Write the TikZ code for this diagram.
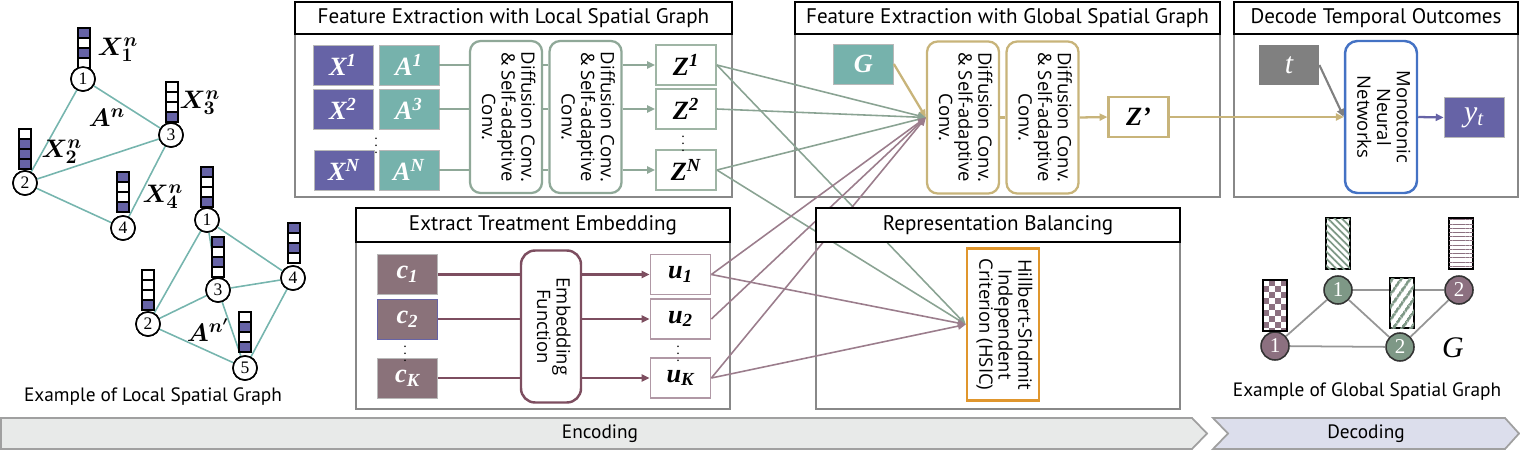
\documentclass[tikz,border=0pt]{standalone}
\usepackage{fontspec}
\usepackage{bm}
\usepackage{graphicx}
\setmainfont{PT Sans}
\newfontfamily\rotfont{Open Sans}
\newfontfamily\timesfont{Liberation Serif}
\usetikzlibrary{arrows.meta,patterns.meta}

\definecolor{xpurple}{RGB}{102,99,166}
\definecolor{ateal}{RGB}{118,178,172}
\definecolor{lgreen}{RGB}{143,168,152}
\definecolor{zedge}{RGB}{159,181,165}
\definecolor{zline}{RGB}{138,163,147}
\definecolor{gold}{RGB}{200,180,122}
\definecolor{mauve}{RGB}{138,114,122}
\definecolor{dmauve}{RGB}{125,78,96}
\definecolor{lmauve}{RGB}{176,152,165}
\definecolor{uline}{RGB}{155,125,140}
\definecolor{hsic}{RGB}{224,150,45}
\definecolor{mnnblue}{RGB}{68,114,196}
\definecolor{frame}{RGB}{136,136,136}
\definecolor{tgray}{RGB}{128,128,128}
\definecolor{graphteal}{RGB}{118,181,174}
\definecolor{ggreen}{RGB}{126,152,134}
\definecolor{gmauve}{RGB}{140,112,128}
\definecolor{gedge}{RGB}{150,150,150}
\definecolor{encfill}{RGB}{232,234,233}
\definecolor{decfill}{RGB}{220,222,236}
\definecolor{bandedge}{RGB}{160,160,160}

\begin{document}
\begin{tikzpicture}[x=0.02cm, y=-0.02cm,
    title/.style={draw=black, line width=1.5pt, fill=white, inner sep=0pt,
        minimum height=0.64cm, font=\fontsize{12}{13}\selectfont},
    panel/.style={draw=frame, line width=1.1pt},
    symbox/.style={minimum width=1.2cm, minimum height=0.8cm, inner sep=0pt,
        font=\timesfont\fontsize{15}{15}\selectfont\bfseries\itshape},
    xbox/.style={symbox, fill=xpurple, draw=frame!60, text=white},
    abox/.style={symbox, fill=ateal, draw=frame!60, text=white},
    zbox/.style={symbox, draw=zedge, line width=1pt},
    cbox/.style={symbox, fill=mauve, draw=frame!60, text=white},
    ubox/.style={symbox, draw=lmauve, line width=1pt},
    tallbox/.style={minimum width=1.44cm, minimum height=3.04cm, inner sep=0pt,
        line width=1.3pt, font=\rotfont\fontsize{10.5}{11}\selectfont},
    convL/.style={tallbox, draw=lgreen, rounded corners=6pt},
    convG/.style={tallbox, draw=gold, rounded corners=6pt},
    arrowto/.style={-{Triangle[length=4.5pt,width=4pt]}},
    lline/.style={draw=lgreen, line width=1.2pt},
    gline/.style={draw=gold, line width=1.3pt},
    eline/.style={draw=dmauve, line width=1.4pt},
    zcross/.style={draw=zline, line width=0.9pt, arrowto},
    ucross/.style={draw=uline, line width=0.9pt, arrowto},
    gnode/.style={circle, draw=black, line width=0.9pt, fill=white, minimum size=0.48cm,
        inner sep=0pt, font=\timesfont\fontsize{10}{10}\selectfont},
    Gnode/.style={circle, draw=black!80, line width=0.9pt, minimum size=0.56cm,
        inner sep=0pt, text=white, font=\timesfont\fontsize{12}{12}\selectfont},
    glabel/.style={inner sep=0pt, font=\fontsize{15}{15}\selectfont},
    dots/.style={inner sep=0pt, font=\fontsize{8}{8}\selectfont},
    caption/.style={font=\fontsize{11}{13}\selectfont},
    band/.style={draw=bandedge, line width=1pt},
    cell/.style={draw=black, line width=0.6pt}
]

    \useasboundingbox (0,0) rectangle (1520,456);

    % --- Panels and Titles ---
    \draw[panel] (295,34) rectangle (732,197);
    \node[title, minimum width=8.74cm] (localtitle) at (513.5,18) {Feature Extraction with Local Spatial Graph};

    \draw[panel] (795,34) rectangle (1220,197);
    \node[title, minimum width=8.5cm] (globaltitle) at (1007.5,18) {Feature Extraction with Global Spatial Graph};

    \draw[panel] (1234,34) rectangle (1518,197);
    \node[title, minimum width=5.68cm] (decodetitle) at (1376,18) {Decode Temporal Outcomes};

    \draw[panel] (356,242) rectangle (730,409);
    \node[title, minimum width=7.48cm, minimum height=0.68cm] (extracttitle) at (543,225) {Extract Treatment Embedding};

    \draw[panel] (816,242) rectangle (1180,409);

    % --- Example of Local Spatial Graph ---
    \node[gnode] (n1) at (83,79) {1};
    \node[gnode] (n2) at (25,183) {2};
    \node[gnode] (n3) at (171,135) {3};
    \node[gnode] (n4) at (123,228) {4};

    \node[gnode] (m1) at (207,220) {1};
    \node[gnode] (m2) at (148,324) {2};
    \node[gnode] (m3) at (218,290) {3};
    \node[gnode] (m4) at (293,278) {4};
    \node[gnode] (m5) at (245,368) {5};

    % edges of both graphs
    \foreach \a/\b in {n1/n2, n1/n3, n2/n3, n2/n4, n3/n4,
                       m1/m2, m1/m3, m1/m4, m2/m3, m2/m5, m3/m4, m3/m5, m4/m5}
        \draw[graphteal, line width=0.9pt] (\a) -- (\b);

    % feature bars (1 = filled cell)
    \foreach \bx/\by/\ca/\cb/\cc/\cd in {78/28/1/0/1/0, 166/82/0/0/0/1, 19/129/0/1/1/1, 117/172/1/0/0/1,
                                         201/167/1/0/0/1, 212/237/1/0/1/0, 288/223/1/0/1/0,
                                         142/270/0/0/0/1, 239/312/0/1/0/1}
        \foreach \c [count=\i] in {\ca,\cb,\cc,\cd} {
            \ifnum\c=1 \def\cellcol{xpurple}\else\def\cellcol{white}\fi
            \draw[cell, fill=\cellcol] (\bx,\by+10*\i-10) rectangle ++(12,10);
        }

    % redraw nodes above the edges
    \foreach \n/\t in {n1/1, n2/2, n3/3, n4/4, m1/1, m2/2, m3/3, m4/4, m5/5}
        \node[gnode] at (\n) {\t};

    \node[glabel] (lx1) at (118,50) {$\bm{X^n_1}$};
    \node[glabel] (lx3) at (200,103) {$\bm{X^n_3}$};
    \node[glabel] (lx2) at (62,152) {$\bm{X^n_2}$};
    \node[glabel] (lx4) at (163,197) {$\bm{X^n_4}$};
    \node[glabel] (lan) at (107,118) {$\bm{A^n}$};
    \node[glabel] (lan2) at (208,330) {$\bm{A^{n'}}$};

    \node[caption] (localcap) at (153,397) {Example of Local Spatial Graph};

    % --- Feature Extraction with Local Spatial Graph ---
    \node[xbox] (X1) at (343,65) {X\textsuperscript{1}};
    \node[abox] (A1) at (409,65) {A\textsuperscript{1}};
    \node[xbox] (X2) at (343,109) {X\textsuperscript{2}};
    \node[abox] (A3) at (409,109) {A\textsuperscript{3}};
    \node[xbox] (XN) at (344,170) {X\textsuperscript{N}};
    \node[abox] (AN) at (409,170) {A\textsuperscript{N}};
    \node[dots] (XAdots) at (376,141) {$\vdots$};

    \node[convL] (conv1L) at (506,117) {\rotatebox{-90}{\begin{tabular}{@{}c@{}}Diffusion Conv.\\ \& Self-adaptive\\ Conv.\end{tabular}}};
    \node[convL] (conv2L) at (585.5,117) {\rotatebox{-90}{\begin{tabular}{@{}c@{}}Diffusion Conv.\\ \& Self-adaptive\\ Conv.\end{tabular}}};

    \node[zbox] (Z1) at (686,65) {Z\textsuperscript{1}};
    \node[zbox] (Z2) at (686,109) {Z\textsuperscript{2}};
    \node[zbox] (ZN) at (686,170) {Z\textsuperscript{N}};
    \node[dots] (Zdots) at (683,139) {$\vdots$};

    \foreach \a/\z in {A1/Z1, A3/Z2, AN/ZN} {
        \draw[lline] (\a.east) -- (\a.east -| conv1L.west);
        \draw[lline] (\a.east -| conv1L.east) -- (\a.east -| conv2L.west);
        \draw[lline, arrowto] (\a.east -| conv2L.east) -- (\z.west);
    }

    % --- Feature Extraction with Global Spatial Graph ---
    \node[symbox, fill=ateal, draw=frame!60, text=white] (G) at (863.5,64) {G};
    \node[convG] (conv1G) at (963,117.5) {\rotatebox{-90}{\begin{tabular}{@{}c@{}}Diffusion Conv.\\ \& Self-adaptive\\ Conv.\end{tabular}}};
    \node[convG] (conv2G) at (1042.5,117.5) {\rotatebox{-90}{\begin{tabular}{@{}c@{}}Diffusion Conv.\\ \& Self-adaptive\\ Conv.\end{tabular}}};
    \node[symbox, draw=gold, line width=1.2pt] (Zp) at (1138.5,117) {Z’};

    \draw[gline, arrowto] (G.east) -- (conv1G.west);
    \draw[gline] (conv1G.east) -- (conv2G.west);
    \draw[gline, arrowto] (conv2G.east) -- (Zp.west);

    % --- Decode Temporal Outcomes ---
    \node[symbox, fill=tgray, text=white, font=\timesfont\fontsize{17}{17}\selectfont\itshape] (t) at (1289,65) {t};
    \node[tallbox, draw=mnnblue, line width=1.4pt, rounded corners=7pt] (MNN) at (1381,117) {\rotatebox{-90}{\begin{tabular}{@{}c@{}}Monotonic\\ Neural\\ Networks\end{tabular}}};
    \node[symbox, fill=xpurple, draw=frame!60, text=white, font=\timesfont\fontsize{17}{17}\selectfont\itshape] (yt) at (1474,117.5) {y\textsubscript{t}};

    \draw[gline, arrowto] (Zp.east) -- (MNN.west);
    \draw[tgray, line width=1.2pt, arrowto] (t.east) -- (MNN.west);
    \draw[xpurple, line width=1.3pt, arrowto] (MNN.east) -- (yt.west);

    % --- Extract Treatment Embedding ---
    \node[cbox] (c1) at (407.5,274.5) {c\textsubscript{1}};
    \node[cbox, draw=xpurple] (c2) at (407.5,319) {c\textsubscript{2}};
    \node[cbox] (cK) at (407.5,378) {c\textsubscript{K}};
    \node[dots] (cdots) at (405,349) {$\vdots$};

    \node[tallbox, minimum width=1.2cm, draw=dmauve, line width=1.4pt, rounded corners=8pt] (EF) at (551,326.5) {\rotatebox{-90}{\begin{tabular}{@{}c@{}}Embedding\\ Function\end{tabular}}};

    \node[ubox] (u1) at (680.5,274.5) {u\textsubscript{1}};
    \node[ubox] (u2) at (680.5,319) {u\textsubscript{2}};
    \node[ubox] (uK) at (680.5,378) {u\textsubscript{K}};
    \node[dots] (udots) at (678,349) {$\vdots$};

    \foreach \c/\u in {c1/u1, c2/u2, cK/uK} {
        \draw[eline] (\c.east) -- (\c.east -| EF.west);
        \draw[eline, arrowto] (\c.east -| EF.east) -- (\u.west);
    }

    % --- Representation Balancing ---
    \node[tallbox, draw=hsic, line width=1.4pt] (HSIC) at (1003,324.5) {\rotatebox{-90}{\begin{tabular}{@{}c@{}}Hillbert-Shdmit\\ Independent\\ Criterion (HSIC)\end{tabular}}};

    % --- Connections between the blocks ---
    \foreach \s in {Z1, Z2, ZN}
        \draw[zcross] (\s.east) -- (conv1G.west);
    \foreach \s in {Z1, ZN}
        \draw[zcross] (\s.east) -- (HSIC.west);
    \foreach \s in {u1, u2, uK}
        \draw[ucross] (\s.east) -- (conv1G.west);
    \foreach \s in {u1, uK}
        \draw[ucross] (\s.east) -- (HSIC.west);

    % title sits above the crossing lines
    \node[title, minimum width=7.28cm, minimum height=0.68cm] (reptitle) at (998,225) {Representation Balancing};

    % --- Example of Global Spatial Graph ---
    \node[Gnode, fill=gmauve] (p1) at (1275,346) {1};
    \node[Gnode, fill=ggreen] (q1) at (1338,290) {1};
    \node[Gnode, fill=ggreen] (q2) at (1400,347) {2};
    \node[Gnode, fill=gmauve] (p2) at (1459,290) {2};

    \foreach \a/\b in {p1/q1, p1/q2, q1/q2, q1/p2, q2/p2}
        \draw[gedge, line width=1pt] (\a) -- (\b);

    % checkerboard bar
    \fill[white] (1263,280) rectangle (1287,331);
    \begin{scope}
        \clip (1263,280) rectangle (1287,331);
        \foreach \i in {0,...,3}
            \foreach \j in {0,...,8} {
                \pgfmathtruncatemacro\chk{mod(\i+\j,2)}
                \ifnum\chk=1 \fill[gmauve] (1263+6*\i,280+6*\j) rectangle ++(6,6); \fi
            }
    \end{scope}
    \draw[black, line width=1pt] (1263,280) rectangle (1287,331);

    % hatched bars
    \draw[black, line width=1pt, fill=white] (1326,218) rectangle (1350,269);
    \fill[pattern={Lines[angle=-45,distance=2.8pt,line width=1pt]}, pattern color=ggreen] (1326,218) rectangle (1350,269);
    \draw[black, line width=1pt, fill=white] (1390,278) rectangle (1414,328);
    \fill[pattern={Lines[angle=55,distance=4pt,line width=1.6pt]}, pattern color=ggreen] (1390,278) rectangle (1414,328);
    \draw[black, line width=1pt, fill=white] (1449,218) rectangle (1473,269);
    \fill[pattern={Lines[angle=0,distance=2.4pt,line width=0.6pt]}, pattern color=gmauve] (1449,218) rectangle (1473,269);

    \node[font=\timesfont\fontsize{17}{17}\selectfont\itshape] (Glabel) at (1453,348) {G};
    \node[caption] (globalcap) at (1367,392) {Example of Global Spatial Graph};

    % --- Encoding / Decoding bands ---
    \draw[band, fill=encfill] (1,418) -- (1192,418) -- (1207,433.5) -- (1192,449) -- (1,449) -- cycle;
    \draw[band, fill=decfill] (1213,418) -- (1505,418) -- (1519,433.5) -- (1505,449) -- (1213,449) -- (1228,433.5) -- cycle;
    \node[caption] (enctext) at (600,434) {Encoding};
    \node[caption] (dectext) at (1366,434) {Decoding};

\end{tikzpicture}
\end{document}
